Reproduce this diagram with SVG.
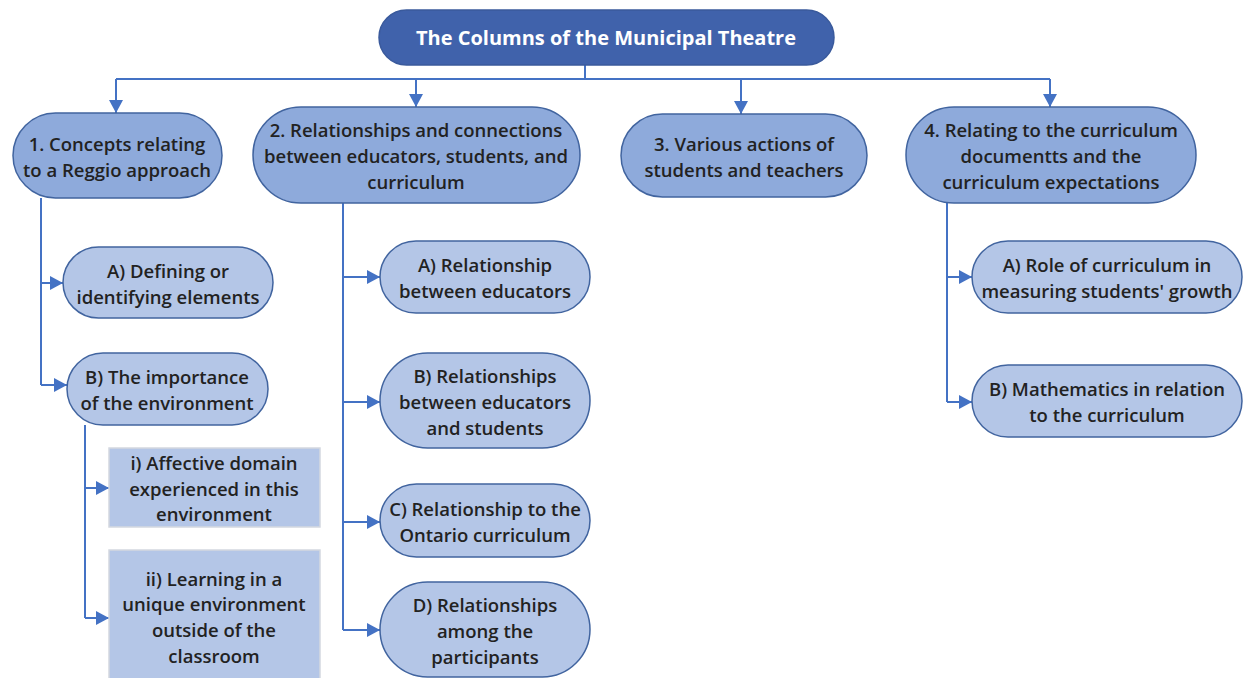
<svg xmlns="http://www.w3.org/2000/svg" width="1243" height="678" viewBox="0 0 1243 678">
  <style>
    .lvl1 { fill: #8eaadb; stroke: #41649f; stroke-width: 1.5; }
    .lvl2 { fill: #b4c6e7; stroke: #41649f; stroke-width: 1.5; }
    .box { fill: #b4c6e7; stroke: #d4d8e0; stroke-width: 1.5; }
    .root { fill: #4062ab; stroke: #3a5a9c; stroke-width: 1.5; }
    text { font-family: "Open Sans", "Noto Sans", "Liberation Sans", sans-serif; font-size: 18.5px; font-weight: 600; fill: #222222; text-anchor: middle; dominant-baseline: central; }
    .title { fill: #ffffff; font-size: 20px; font-weight: 700; }
    .link { fill: none; stroke: #4472c4; stroke-width: 2; }
  </style>
  <defs>
    <marker id="arrow" markerUnits="userSpaceOnUse" markerWidth="14" markerHeight="14" viewBox="0 0 14 14" refX="13" refY="7" orient="auto">
      <path d="M0,0 L13,7 L0,14 Z" fill="#4472c4"/>
    </marker>
  </defs>
  <rect width="1243" height="678" fill="#ffffff"/>

  <g id="connectors">
    <path class="link" d="M585,65 V79"/>
    <path class="link" d="M116,79 H1050"/>
    <path class="link" d="M116,79 V113" marker-end="url(#arrow)"/>
    <path class="link" d="M416,79 V107" marker-end="url(#arrow)"/>
    <path class="link" d="M741,79 V114" marker-end="url(#arrow)"/>
    <path class="link" d="M1050,79 V107" marker-end="url(#arrow)"/>
    <!-- column 1 -->
    <path class="link" d="M41,198 V385"/>
    <path class="link" d="M41,283 H63" marker-end="url(#arrow)"/>
    <path class="link" d="M41,385 H67" marker-end="url(#arrow)"/>
    <path class="link" d="M85,425 V618"/>
    <path class="link" d="M85,488 H109" marker-end="url(#arrow)"/>
    <path class="link" d="M85,618 H109" marker-end="url(#arrow)"/>
    <!-- column 2 -->
    <path class="link" d="M343,203 V630"/>
    <path class="link" d="M343,277 H380" marker-end="url(#arrow)"/>
    <path class="link" d="M343,402 H380" marker-end="url(#arrow)"/>
    <path class="link" d="M343,522 H380" marker-end="url(#arrow)"/>
    <path class="link" d="M343,630 H380" marker-end="url(#arrow)"/>
    <!-- column 4 -->
    <path class="link" d="M947,203 V402"/>
    <path class="link" d="M947,277 H972" marker-end="url(#arrow)"/>
    <path class="link" d="M947,402 H972" marker-end="url(#arrow)"/>
  </g>

  <g id="root">
    <rect class="root" x="379" y="10" width="455" height="55" rx="27.5"/>
    <text class="title" x="606" y="37">The Columns of the Municipal Theatre</text>
  </g>

  <g id="n1">
    <rect class="lvl1" x="13" y="113" width="209" height="85" rx="42.5"/>
    <text x="117" y="143">1. Concepts relating</text>
    <text x="117" y="169">to a Reggio approach</text>
  </g>
  <g id="n1a">
    <rect class="lvl2" x="63" y="247" width="210" height="71" rx="35.5"/>
    <text x="168" y="270">A) Defining or</text>
    <text x="168" y="296">identifying elements</text>
  </g>
  <g id="n1b">
    <rect class="lvl2" x="67" y="353" width="201" height="72" rx="36"/>
    <text x="167" y="376">B) The importance</text>
    <text x="167" y="402">of the environment</text>
  </g>
  <g id="n1bi">
    <rect class="box" x="109" y="448" width="211" height="79"/>
    <text x="214" y="462">i) Affective domain</text>
    <text x="214" y="488">experienced in this</text>
    <text x="214" y="513">environment</text>
  </g>
  <g id="n1bii">
    <rect class="box" x="109" y="550" width="211" height="140"/>
    <text x="214" y="578">ii) Learning in a</text>
    <text x="214" y="603">unique environment</text>
    <text x="214" y="629">outside of the</text>
    <text x="214" y="655">classroom</text>
  </g>

  <g id="n2">
    <rect class="lvl1" x="253" y="107" width="327" height="96" rx="48"/>
    <text x="416" y="129">2. Relationships and connections</text>
    <text x="416" y="155">between educators, students, and</text>
    <text x="416" y="181">curriculum</text>
  </g>
  <g id="n2a">
    <rect class="lvl2" x="380" y="241" width="210" height="72" rx="36"/>
    <text x="485" y="264">A) Relationship</text>
    <text x="485" y="290">between educators</text>
  </g>
  <g id="n2b">
    <rect class="lvl2" x="380" y="353" width="210" height="95" rx="47.5"/>
    <text x="485" y="375">B) Relationships</text>
    <text x="485" y="401">between educators</text>
    <text x="485" y="427">and students</text>
  </g>
  <g id="n2c">
    <rect class="lvl2" x="380" y="484" width="210" height="73" rx="36.5"/>
    <text x="485" y="508">C) Relationship to the</text>
    <text x="485" y="534">Ontario curriculum</text>
  </g>
  <g id="n2d">
    <rect class="lvl2" x="380" y="582" width="210" height="95" rx="47.5"/>
    <text x="485" y="604">D) Relationships</text>
    <text x="485" y="630">among the</text>
    <text x="485" y="656">participants</text>
  </g>

  <g id="n3">
    <rect class="lvl1" x="621" y="114" width="246" height="83" rx="41.5"/>
    <text x="744" y="143">3. Various actions of</text>
    <text x="744" y="169">students and teachers</text>
  </g>

  <g id="n4">
    <rect class="lvl1" x="906" y="107" width="290" height="96" rx="48"/>
    <text x="1051" y="129">4. Relating to the curriculum</text>
    <text x="1051" y="155">documentts and the</text>
    <text x="1051" y="181">curriculum expectations</text>
  </g>
  <g id="n4a">
    <rect class="lvl2" x="972" y="241" width="270" height="72" rx="36"/>
    <text x="1107" y="264">A) Role of curriculum in</text>
    <text x="1107" y="290">measuring students' growth</text>
  </g>
  <g id="n4b">
    <rect class="lvl2" x="972" y="365" width="270" height="72" rx="36"/>
    <text x="1107" y="388">B) Mathematics in relation</text>
    <text x="1107" y="414">to the curriculum</text>
  </g>
</svg>
